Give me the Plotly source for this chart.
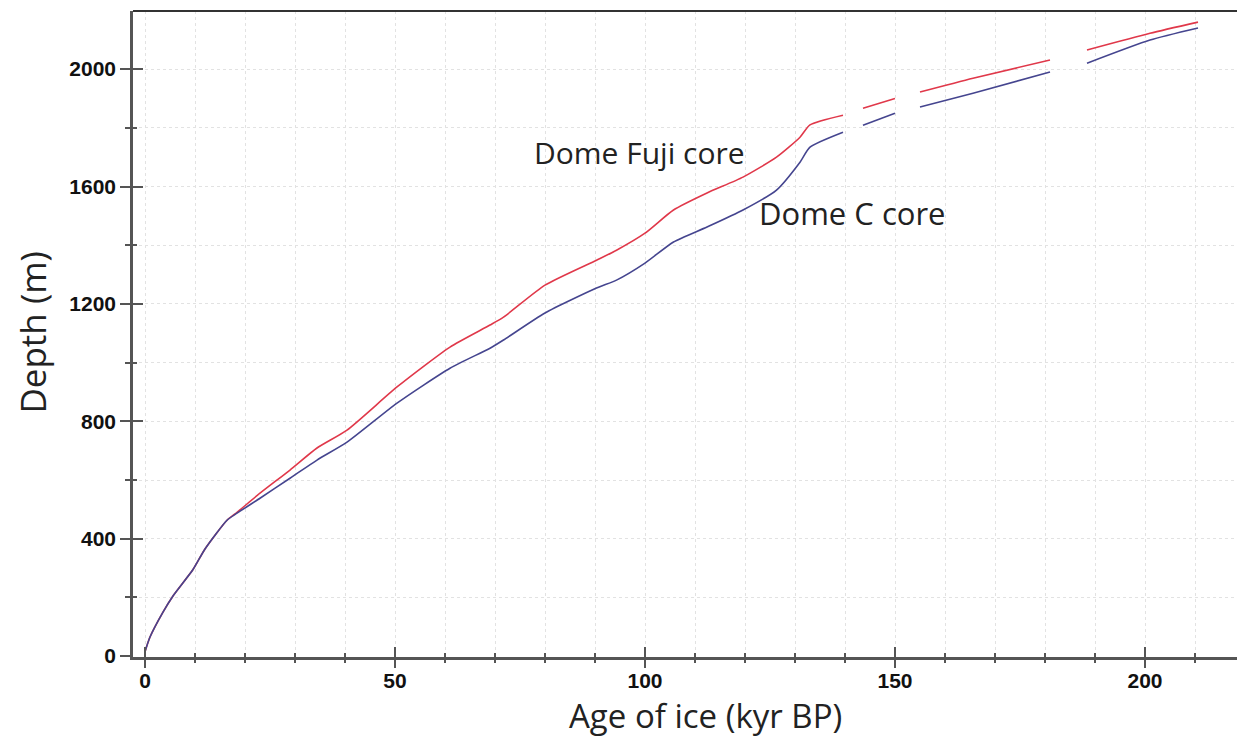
import plotly.graph_objects as go

# Dome Fuji core (red)
fuji_age = [0, 1, 3.6, 5.6, 9.6, 12, 16.4, 18.4, 23, 29, 34.4, 40.4, 50.4, 61, 69, 71.7, 80, 90.3,
            94.3, 100, 105.7, 112.4, 119.6, 126.3, 131, 133, 139.6, None, 143.6, 150, None, 155,
            165.6, 181, None, 188.4, 201, 210.6]
fuji_depth = [15, 65, 150, 205, 295, 365, 463, 490, 555, 634, 709, 770, 917, 1053, 1128, 1155, 1264, 1349,
              1383, 1441, 1520, 1578, 1632, 1700, 1768, 1810, 1843, None, 1867, 1900, None, 1922,
              1969, 2031, None, 2065, 2122, 2160]

# Dome C core (blue)
domec_age = [0, 1, 3.6, 5.6, 9.6, 12, 16.4, 18.4, 23, 29, 34.4, 40.4, 50.4, 61, 69, 71.7, 80, 90.3,
             94.3, 100, 105.7, 112.4, 119.6, 126.3, 131, 133, 139.6, None, 143.6, 150, None, 155,
             165.6, 181, None, 188.4, 201, 210.6]
domec_depth = [15, 65, 150, 205, 295, 365, 463, 487, 538, 606, 668, 729, 862, 981, 1049, 1077, 1169, 1254,
               1281, 1339, 1411, 1462, 1520, 1588, 1683, 1734, 1785, None, 1809, 1850, None, 1871,
               1918, 1990, None, 2020, 2099, 2140]

x_ticks = [0, 50, 100, 150, 200]
y_ticks = [0, 400, 800, 1200, 1600, 2000]

XR = [-2.4, 218.4]
YR = [-3, 2198]

fig = go.Figure()
fig.add_trace(go.Scatter(x=fuji_age, y=fuji_depth, mode="lines", name="Dome Fuji core",
                         line=dict(color="#e0384a", width=1.6, shape="spline", smoothing=0.6),
                         connectgaps=False, showlegend=False))
fig.add_trace(go.Scatter(x=domec_age, y=domec_depth, mode="lines", name="Dome C core",
                         line=dict(color="#45458f", width=1.6, shape="spline", smoothing=0.6),
                         connectgaps=False, showlegend=False))
# invisible trace on overlay axes (for cross-style ticks)
fig.add_trace(go.Scatter(x=[None], y=[None], xaxis="x2", yaxis="y2", showlegend=False,
                         hoverinfo="skip"))

tickfont = dict(family="Liberation Sans, Arial", size=21, color="#111", weight="bold")
axcol = "#555555"
gridcol = "#e2e2e2"

fig.update_layout(
    width=1237, height=737,
    margin=dict(l=133, r=0, t=11, b=80),
    paper_bgcolor="white", plot_bgcolor="white",
    xaxis=dict(range=XR, tickvals=x_ticks, ticks="inside", ticklen=10, tickwidth=2, tickcolor=axcol,
               showline=True, linecolor=axcol, linewidth=2.5, zeroline=False,
               showgrid=True, gridcolor=gridcol, griddash="dot", gridwidth=1,
               tickfont=tickfont, ticklabelstandoff=3,
               minor=dict(dtick=10, tick0=0, ticks="inside", ticklen=4, tickwidth=2, tickcolor=axcol,
                          showgrid=True, gridcolor=gridcol, griddash="dot", gridwidth=1)),
    yaxis=dict(range=YR, tickvals=y_ticks, ticks="outside", ticklen=10, tickwidth=2, tickcolor=axcol,
               showline=True, linecolor=axcol, linewidth=2.5, zeroline=False,
               showgrid=True, gridcolor=gridcol, griddash="dot", gridwidth=1,
               tickfont=tickfont, ticklabelstandoff=0,
               minor=dict(dtick=200, tick0=0, ticks="outside", ticklen=5, tickwidth=2, tickcolor=axcol,
                          showgrid=True, gridcolor=gridcol, griddash="dot", gridwidth=1)),
    xaxis2=dict(range=XR, overlaying="x", anchor="y2", side="bottom", tickvals=x_ticks,
                ticks="outside", ticklen=10, tickwidth=2, tickcolor=axcol, showticklabels=False,
                showgrid=False, zeroline=False, showline=False,
                minor=dict(dtick=10, tick0=0, ticks="outside", ticklen=5, tickwidth=2, tickcolor=axcol)),
    yaxis2=dict(range=YR, overlaying="y", anchor="x2", side="left", tickvals=y_ticks,
                ticks="inside", ticklen=10, tickwidth=2, tickcolor=axcol, showticklabels=False,
                showgrid=False, zeroline=False, showline=False,
                minor=dict(dtick=200, tick0=0, ticks="inside", ticklen=4, tickwidth=2, tickcolor=axcol)),
    shapes=[dict(type="line", xref="paper", yref="paper", x0=0, x1=1, y0=1, y1=1,
                 line=dict(color="#333333", width=2))],
    annotations=[
        dict(text="Age of ice (kyr BP)", xref="paper", yref="paper", x=0.519, y=-0.091,
             xanchor="center", yanchor="middle", showarrow=False,
             font=dict(family="Open Sans", size=33, color="#222")),
        dict(text="Depth (m)", xref="paper", yref="paper", x=-0.091, y=0.503, textangle=-90,
             xanchor="center", yanchor="middle", showarrow=False,
             font=dict(family="Open Sans", size=35, color="#222")),
        dict(text="Dome Fuji core", x=98.8, y=1717, xref="x", yref="y", showarrow=False,
             xanchor="center", yanchor="middle", font=dict(family="Open Sans", size=30, color="#222")),
        dict(text="Dome C core", x=141.4, y=1509, xref="x", yref="y", showarrow=False,
             xanchor="center", yanchor="middle", font=dict(family="Open Sans", size=31, color="#222")),
    ],
)

fig.write_html("out.html", config={"displayModeBar": False},
               post_script="document.body.style.margin='0';document.body.style.overflow='hidden';")
